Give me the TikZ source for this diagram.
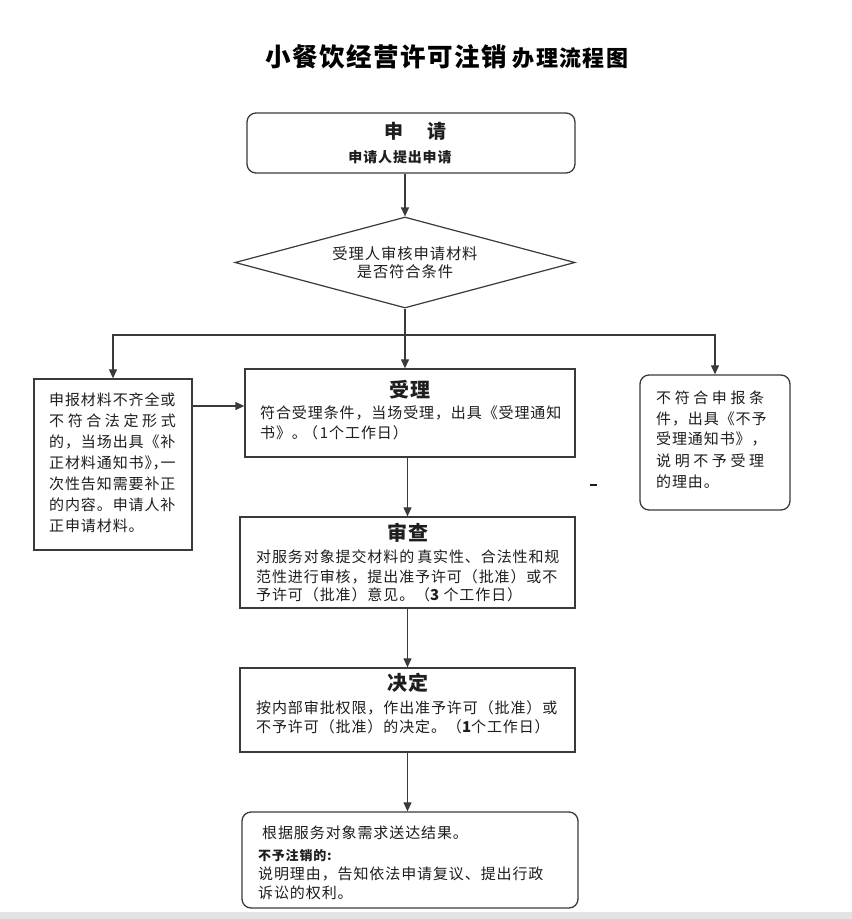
\documentclass[tikz,border=0pt]{standalone}
\usepackage{fontspec}
\setmainfont{Noto Sans CJK SC}[LetterSpace=6]
\newfontfamily\widefont{Noto Sans CJK SC}[LetterSpace=24]
\usetikzlibrary{arrows.meta,shapes.geometric}
\definecolor{lc}{HTML}{3A3A3A}
\definecolor{tc}{HTML}{1E1E1E}
\begin{document}
\begin{tikzpicture}[x=1pt,y=-1pt,
  box/.style={draw=lc, line width=1.3pt, inner sep=0pt},
  rbox/.style={box, rounded corners=9pt},
  arr/.style={draw=lc, line width=1.2pt, -{Triangle[length=9pt,width=8pt]}},
  txt/.style={anchor=west, inner sep=0pt, text=tc, font=\fontsize{15}{18}\selectfont},
  wtxt/.style={txt, font=\fontsize{15}{18}\widefont},
  hd/.style={inner sep=0pt, text=tc, font=\fontsize{20}{24}\selectfont\bfseries}]
\fill[white] (0,0) rectangle (852,919);
\useasboundingbox (0,0) rectangle (852,919);
\fill[gray!22] (0,912) rectangle (852,919);
\draw[line width=2pt, tc] (590,485) -- (597,485);

% title
\node[anchor=west, inner sep=0pt, text=black] (title) at (265,57)
  {{\fontsize{25.5}{30}\selectfont\bfseries 小餐饮经营许可注销}\hspace{6pt}{\fontsize{22}{30}\selectfont\bfseries 办理流程图}};

% boxes
\node[rbox, minimum width=328pt, minimum height=60pt] (sq) at (411,143) {};
\node[draw=lc, line width=1.2pt, shape=diamond, aspect=3.74, minimum width=340pt, minimum height=91pt,
      inner sep=0pt, align=center, text=tc, font=\fontsize{15.3}{18.5}\selectfont] (dia) at (405,262.5)
      {受理人审核申请材料\\是否符合条件};
\node[box, minimum width=158pt, minimum height=171pt] (lb) at (113,464.5) {};
\node[box, minimum width=330pt, minimum height=88pt] (sl) at (410,413) {};
\node[rbox, minimum width=150pt, minimum height=135pt] (rb) at (715,442.5) {};
\node[box, minimum width=335pt, minimum height=91pt] (sc) at (407.5,562.5) {};
\node[box, minimum width=335pt, minimum height=84pt] (jd) at (407.5,710) {};
\node[rbox, minimum width=336pt, minimum height=96pt] (fb) at (410,860) {};

% connectors
\coordinate (sp) at (405,335);
\coordinate (ya) at (0,406);
\draw[arr] (sq.south -| dia.north) -- (dia.north);
\draw[arr] (dia.south) -- (sl.north -| dia.south);
\draw[arr] (sp) -| (lb.north);
\draw[arr] (sp) -| (rb.north);
\draw[arr] (lb.east |- ya) -- (sl.west |- ya);
\draw[arr] (sc.north |- sl.south) -- (sc.north);
\draw[arr] (sc.south) -- (jd.north);
\draw[arr] (jd.south) -- (fb.north -| jd.south);

% texts: apply
\node[hd, font=\fontsize{19}{22}\selectfont\bfseries] (t1) at (415,131) {申\hspace{24pt}请};
\node[inner sep=0pt, text=tc, font=\fontsize{14}{16}\selectfont\bfseries] (t1b) at (400,157) {申请人提出申请};

% left box
\node[txt] (l1) at (49,400) {申报材料不齐全或};
\node[wtxt] (l2) at (49,421) {不符合法定形式};
\node[txt] (l3) at (49,442) {的，当场出具《补};
\node[txt] (l4) at (49,463) {正材料通知书》\hspace{-7pt}，\hspace{-7pt}一};
\node[txt] (l5) at (49,484) {次性告知需要补正};
\node[txt] (l6) at (49,505) {的内容。申请人补};
\node[txt] (l7) at (49,526) {正申请材料。};

% right box
\node[wtxt] (r1) at (656,398) {不符合申报条};
\node[txt] (r2) at (656,419) {件，出具《不予};
\node[txt] (r3) at (656,439) {受理通知书》，};
\node[wtxt] (r4) at (656,461) {说明不予受理};
\node[txt] (r5) at (656,482) {的理由。};

% accept
\node[hd] (h2) at (410,390) {受理};
\node[txt] (a1) at (260,413) {符合受理条件，当场受理，出具《受理通知};
\node[txt] (a2) at (260,433) {书》。\hspace{-4pt}（\hspace{2pt}1个工作日）};

% review
\node[hd] (h3) at (408,533) {审查};
\node[txt] (s1) at (256,557) {对服务对象提交材料的\hspace{3pt}真实性、合法性和规};
\node[txt] (s2) at (256,577) {范性进行审核，提出准予许可（批准）或不};
\node[txt] (s3) at (256,595) {予许可（批准）意见。（{\bfseries 3} 个工作日）};

% decide
\node[hd] (h4) at (408,683) {决定};
\node[txt] (d1) at (256,708) {按内部审批权限，作出准予许可（批准）或};
\node[txt] (d2) at (256,727) {不予许可（批准）的决定。（{\bfseries 1}个工作日）};

% final
\node[txt] (f1) at (262,833) {根据服务对象需求送达结果。};
\node[txt, font=\fontsize{13}{15}\selectfont\bfseries] (f2) at (258,856) {不予注销的:};
\node[txt] (f3) at (258,874) {说明理由，告知依法申请复议、提出行政};
\node[txt] (f4) at (258,893) {诉讼的权利。};
\end{tikzpicture}
\end{document}
